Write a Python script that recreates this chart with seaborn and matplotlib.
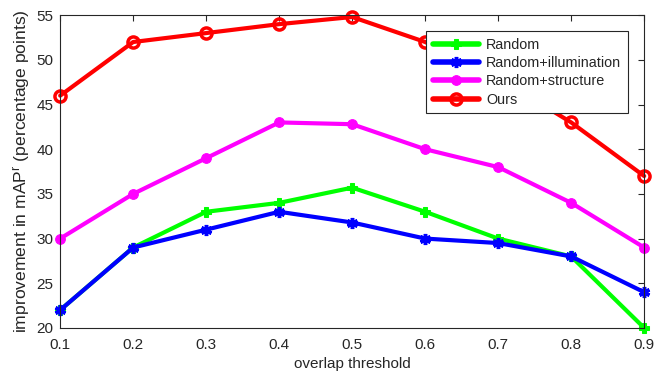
import pandas as pd
import matplotlib
matplotlib.use('Agg')
import matplotlib.pyplot as plt
import seaborn as sns

# data
thresholds = [0.1, 0.2, 0.3, 0.4, 0.5, 0.6, 0.7, 0.8, 0.9]
random_vals = [22, 29, 33, 34, 35.7, 33, 30, 28, 20]
illum_vals = [22, 29, 31, 33, 31.8, 30, 29.5, 28, 24]
struct_vals = [30, 35, 39, 43, 42.8, 40, 38, 34, 29]
ours_vals = [46, 52, 53, 54, 54.8, 52, 48, 43, 37]

sns.set_theme(style='white')
plt.rcParams['font.family'] = ['Liberation Sans', 'DejaVu Sans']
plt.rcParams['mathtext.fontset'] = 'custom'
plt.rcParams['mathtext.rm'] = 'Liberation Sans'
plt.rcParams['mathtext.it'] = 'Liberation Sans'

fig, ax = plt.subplots(figsize=(6.54, 3.80), dpi=100)

series = [
    ('Random', random_vals, '#00ff00', 'P', dict(markersize=7)),
    ('Random+illumination', illum_vals, '#0000ff', (6, 2, 0), dict(markersize=8, markeredgewidth=2.5)),
    ('Random+structure', struct_vals, '#ff00ff', 'o', dict(markersize=7)),
    ('Ours', ours_vals, '#ff0000', 'o', dict(markersize=8, markerfacecolor='none', markeredgewidth=2.5)),
]

for name, vals, col, mk, kw in series:
    df = pd.DataFrame({'x': thresholds, 'y': vals})
    sns.lineplot(data=df, x='x', y='y', ax=ax, color=col, marker=mk,
                 linewidth=3, label=name, markeredgecolor=col, clip_on=False, **kw)

ax.set_xlim(0.1, 0.9)
ax.set_ylim(20, 55)
ax.set_xticks(thresholds)
ax.set_xticklabels([str(t) for t in thresholds])
ax.set_yticks(range(20, 56, 5))
ax.tick_params(direction='in', top=True, right=True, labelsize=11,
               colors='#262626', length=4, width=0.8)
ax.tick_params(axis='x', pad=7)
ax.tick_params(axis='y', pad=5)
for s in ax.spines.values():
    s.set_color('#262626')
    s.set_linewidth(0.8)

ax.set_xlabel('overlap threshold', fontsize=11, color='#262626', labelpad=4)
ax.set_ylabel("improvement in mAP$^r$ (percentage points)", fontsize=12.6,
              color='#262626', labelpad=3)

leg = ax.legend(loc='upper right', bbox_to_anchor=(0.984, 0.972), fontsize=10.4,
                frameon=True, fancybox=False, edgecolor='#262626', framealpha=1,
                handlelength=3.2, borderpad=0.45, labelspacing=0.3, handletextpad=0.5)
leg.get_frame().set_linewidth(0.8)
for h in leg.get_lines():
    h.set_linewidth(4)

fig.subplots_adjust(left=0.092, right=0.985, top=0.96, bottom=0.137)
fig.savefig('out.png', dpi=100)
